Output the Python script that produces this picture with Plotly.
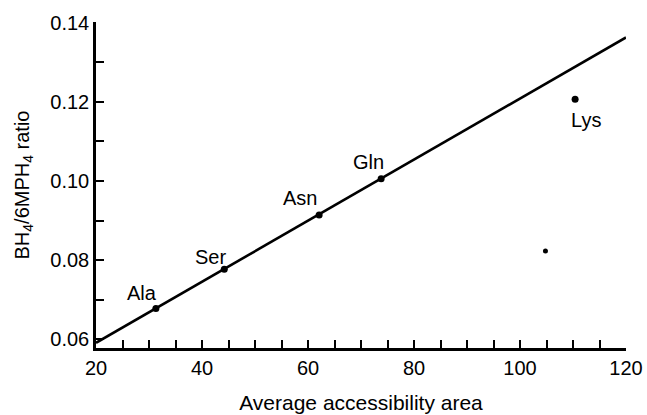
import plotly.graph_objects as go

# Data
residues = ["Ala", "Ser", "Asn", "Gln", "Lys"]
access_area = [31.3, 44.2, 62.1, 73.8, 110.4]
ratio = [0.0678, 0.0777, 0.0914, 0.1006, 0.1207]

extra_x = [104.8]
extra_y = [0.0823]

fit_x = [20, 120]
fit_y = [0.0591, 0.1363]

x_ticks = [20, 40, 60, 80, 100, 120]
y_ticks = [0.06, 0.08, 0.10, 0.12, 0.14]

# label offsets in px (xshift, yshift)
label_shift = {"Ala": (-14, 15), "Ser": (-14, 12), "Asn": (-19, 17), "Gln": (-13, 17), "Lys": (11, -21)}

FONT = "Liberation Sans, Arial, Helvetica, sans-serif"

fig = go.Figure()
fig.add_trace(go.Scatter(x=fit_x, y=fit_y, mode="lines",
                         line=dict(color="black", width=2.6), showlegend=False))
fig.add_trace(go.Scatter(x=access_area, y=ratio, mode="markers",
                         marker=dict(color="black", size=7), showlegend=False))
fig.add_trace(go.Scatter(x=extra_x, y=extra_y, mode="markers",
                         marker=dict(color="black", size=5), showlegend=False))

for name, xv, yv in zip(residues, access_area, ratio):
    dx, dy = label_shift[name]
    fig.add_annotation(x=xv, y=yv, text=name, showarrow=False,
                       xshift=dx, yshift=dy,
                       font=dict(family=FONT, size=20, color="black"))

fig.update_layout(
    width=647, height=415,
    margin=dict(l=96, r=21, t=22, b=67, autoexpand=False),
    paper_bgcolor="white", plot_bgcolor="white",
    font=dict(family=FONT, color="black"),
)
fig.update_xaxes(
    automargin=False,
    range=[20, 120], tickvals=x_ticks, ticktext=[str(v) for v in x_ticks],
    showgrid=False, zeroline=False,
    showline=True, linecolor="black", linewidth=2.5,
    ticks="inside", ticklen=8, tickwidth=2, tickcolor="black",
    minor=dict(dtick=5, tick0=20, ticks="inside", ticklen=8, tickwidth=2, tickcolor="black", showgrid=False),
    tickfont=dict(family=FONT, size=20, color="black"),
    title=dict(text="Average accessibility area", font=dict(family=FONT, size=21, color="black"), standoff=18),
)
fig.update_yaxes(
    automargin=False,
    range=[0.0578, 0.1402], tickvals=y_ticks, ticktext=["%.2f" % v for v in y_ticks],
    showgrid=False, zeroline=False,
    showline=True, linecolor="black", linewidth=2.5,
    ticks="inside", ticklen=8, tickwidth=2, tickcolor="black",
    minor=dict(dtick=0.01, tick0=0.06, ticks="inside", ticklen=8, tickwidth=2, tickcolor="black", showgrid=False),
    tickfont=dict(family=FONT, size=20, color="black"),
    title=dict(text="BH<sub>4</sub>/6MPH<sub>4</sub> ratio", font=dict(family=FONT, size=20, color="black"), standoff=16),
)

fig.write_html("out.html", config={"displayModeBar": False},
               post_script="document.body.style.margin='0px';document.body.style.overflow='hidden';")
